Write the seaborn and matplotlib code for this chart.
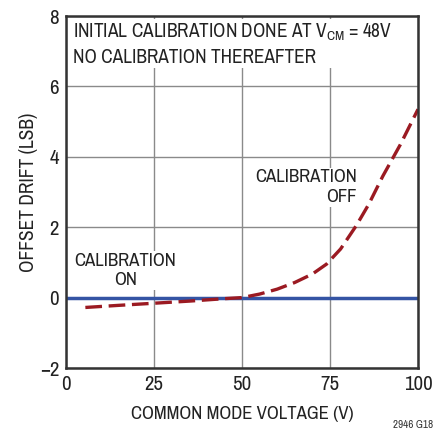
import pandas as pd
import matplotlib.pyplot as plt
import seaborn as sns
from matplotlib import font_manager

# Offset drift vs common mode voltage
vcm_off = [5.5, 15, 25, 35, 45, 50, 55, 60, 65, 70, 74, 78, 82.5, 86, 90, 95, 100]
drift_off = [-0.28, -0.22, -0.16, -0.10, -0.03, 0.0, 0.10, 0.24, 0.43, 0.67,
             0.95, 1.38, 2.05, 2.65, 3.45, 4.35, 5.35]
vcm_on = [0, 100]
drift_on = [0, 0]

x_ticks = [0, 25, 50, 75, 100]
y_ticks = [-2, 0, 2, 4, 6, 8]

sns.set_style('white')

# look for a narrow face, else fall back
names = sorted({f.name for f in font_manager.fontManager.ttflist})
narrow = [n for n in names if 'Narrow' in n or 'Condensed' in n]
plt.rcParams['font.family'] = narrow[:1] + ['Liberation Sans', 'DejaVu Sans']
plt.rcParams['mathtext.default'] = 'regular'

df_off = pd.DataFrame({'vcm': vcm_off, 'drift': drift_off})
df_on = pd.DataFrame({'vcm': vcm_on, 'drift': drift_on})

fig = plt.figure(figsize=(4.48, 4.30), dpi=100)
ax = fig.add_axes([66 / 448, 62 / 430, 352 / 448, 352 / 430])

ax.set_xlim(0, 100)
ax.set_ylim(-2, 8)
ax.set_xticks(x_ticks)
ax.set_yticks(y_ticks)
ax.set_yticklabels(['\u22122' if t < 0 else str(t) for t in y_ticks])
ax.grid(True, color='#8a8a8a', linewidth=1.0)
ax.set_axisbelow(True)

sns.lineplot(data=df_on, x='vcm', y='drift', ax=ax, color='#3454a4', linewidth=2.5, zorder=3)
sns.lineplot(data=df_off, x='vcm', y='drift', ax=ax, color='#9b1a22', linewidth=2.4,
             dashes=False, zorder=4).lines[-1].set_dashes([5, 2])

for s in ax.spines.values():
    s.set_color('#333333')
    s.set_linewidth(1.8)
    s.set_zorder(6)

ax.tick_params(axis='both', length=0, labelsize=15, colors='#222222', pad=5)
ax.set_xlabel('COMMON MODE VOLTAGE (V)', fontsize=13.5, color='#222222', labelpad=9)
ax.set_ylabel('OFFSET DRIFT (LSB)', fontsize=14, color='#222222', labelpad=1)

box = dict(facecolor='white', edgecolor='none', pad=1.0)
ax.text(2, 7.19, 'INITIAL CALIBRATION DONE AT V$_{CM}$ = 48V\nNO CALIBRATION THEREAFTER',
        fontsize=13.9, color='#222222', ha='left', va='center', linespacing=1.3, bbox=box, zorder=5)
ax.text(82.6, 3.13, 'CALIBRATION\nOFF', fontsize=13.5, color='#222222', ha='right', va='center',
        multialignment='right', linespacing=1.3, bbox=box, zorder=5)
ax.text(16.8, 0.77, 'CALIBRATION\nON', fontsize=13.5, color='#222222', ha='center', va='center',
        multialignment='center', linespacing=1.3, bbox=box, zorder=5)

fig.text(433 / 448, 0.5 / 430, '2946 G18', fontsize=8, color='#333333', ha='right', va='bottom')

fig.savefig('out.png', dpi=100)
